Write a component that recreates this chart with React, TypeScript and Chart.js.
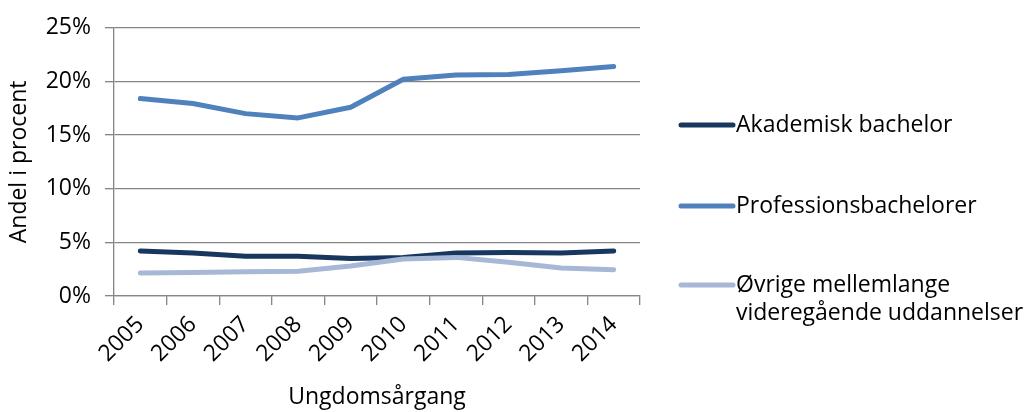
import React, { useEffect, useRef } from "react";
import { Chart, registerables } from "chart.js";

Chart.register(...registerables);

const years = ["2005", "2006", "2007", "2008", "2009", "2010", "2011", "2012", "2013", "2014"];
const akademisk = [4.2, 4.0, 3.7, 3.7, 3.5, 3.6, 4.0, 4.05, 4.0, 4.2];
const profession = [18.4, 17.95, 17.0, 16.6, 17.6, 20.2, 20.6, 20.65, 21.0, 21.4];
const ovrige = [2.15, 2.2, 2.25, 2.3, 2.8, 3.45, 3.6, 3.15, 2.6, 2.45];
const seriesNames = [
  "Akademisk bachelor",
  "Professionsbachelorer",
  "Øvrige mellemlange videregående uddannelser",
];
const seriesColors = ["#17375E", "#4F81BD", "#A6B8D6"];
const yMax = 25;
const yStep = 5;
const yTitle = "Andel i procent";
const xTitle = "Ungdomsårgang";

const FONT = "'Open Sans', 'DejaVu Sans', sans-serif";
const TICK_SIZE = 23;
const TITLE_SIZE = 23;
const LEGEND_SIZE = 23;
const GRID = "#868686";

function wrapText(ctx: CanvasRenderingContext2D, text: string, maxWidth: number): string[] {
  const words = text.split(" ");
  const lines: string[] = [];
  let cur = "";
  for (const w of words) {
    const test = cur ? cur + " " + w : w;
    if (ctx.measureText(test).width > maxWidth && cur) {
      lines.push(cur);
      cur = w;
    } else {
      cur = test;
    }
  }
  if (cur) lines.push(cur);
  return lines;
}

const legendPlugin = {
  id: "sideLegend",
  afterDraw(chart: any) {
    const ctx = chart.ctx as CanvasRenderingContext2D;
    const itemY = [125, 206, 285];
    const lineX0 = 681;
    const lineX1 = 733;
    const textX = 736;
    const lineHeight = 28;
    ctx.save();
    ctx.font = `${LEGEND_SIZE}px ${FONT}`;
    ctx.textBaseline = "middle";
    ctx.textAlign = "left";
    chart.data.datasets.forEach((ds: any, i: number) => {
      const y = itemY[i];
      ctx.strokeStyle = ds.borderColor;
      ctx.lineWidth = 5;
      ctx.lineCap = "round";
      ctx.beginPath();
      ctx.moveTo(lineX0, y);
      ctx.lineTo(lineX1, y);
      ctx.stroke();
      ctx.fillStyle = "#000";
      const lines = wrapText(ctx, ds.label, 340);
      lines.forEach((ln, k) => ctx.fillText(ln, textX, y + k * lineHeight));
    });
    ctx.restore();
  },
};

export default function App() {
  const canvasRef = useRef<HTMLCanvasElement | null>(null);

  useEffect(() => {
    document.body.style.margin = "0";
    const canvas = canvasRef.current;
    if (!canvas) return;
    const tickFont = { family: FONT, size: TICK_SIZE };
    const titleFont = { family: FONT, size: TITLE_SIZE };
    const seriesData = [akademisk, profession, ovrige];
    const chart = new Chart(canvas, {
      type: "line",
      data: {
        labels: years,
        datasets: seriesData.map((d, i) => ({
          label: seriesNames[i],
          data: d,
          borderColor: seriesColors[i],
          backgroundColor: seriesColors[i],
          borderWidth: 5,
          borderCapStyle: "round",
          borderJoinStyle: "round",
          pointRadius: 0,
          tension: 0,
          fill: false,
          order: 3 - i,
        })),
      },
      options: {
        responsive: false,
        animation: false,
        events: [],
        layout: { padding: { top: 24, right: 390, left: 0, bottom: 0 } },
        plugins: {
          legend: { display: false },
          tooltip: { enabled: false },
        },
        scales: {
          x: {
            offset: true,
            grid: {
              offset: true,
              drawOnChartArea: false,
              drawTicks: true,
              tickLength: 9,
              color: GRID,
              lineWidth: 1.33,
            },
            border: { display: true, color: GRID, width: 1.33 },
            ticks: { minRotation: 45, maxRotation: 45, padding: 6, color: "#000", font: tickFont },
            title: { display: true, text: xTitle, color: "#000", font: titleFont, padding: { top: 0, bottom: 1 } },
            afterFit: (s: any) => {
              s.height = 116;
            },
          },
          y: {
            min: 0,
            max: yMax,
            ticks: {
              stepSize: yStep,
              padding: 14,
              color: "#000",
              font: tickFont,
              callback: (v: any) => v + "%",
            },
            grid: { color: GRID, lineWidth: 1.33, tickLength: 9, drawTicks: true },
            border: { display: true, color: GRID, width: 1.33 },
            title: { display: true, text: yTitle, color: "#000", font: titleFont, padding: { top: 6, bottom: 0 } },
            afterFit: (s: any) => {
              s.width = 114;
            },
          },
        },
      },
      plugins: [legendPlugin],
    } as any);
    return () => chart.destroy();
  }, []);

  return (
    <div style={{ width: 1030, height: 412, background: "#fff" }}>
      <canvas ref={canvasRef} width={1030} height={412} />
    </div>
  );
}
